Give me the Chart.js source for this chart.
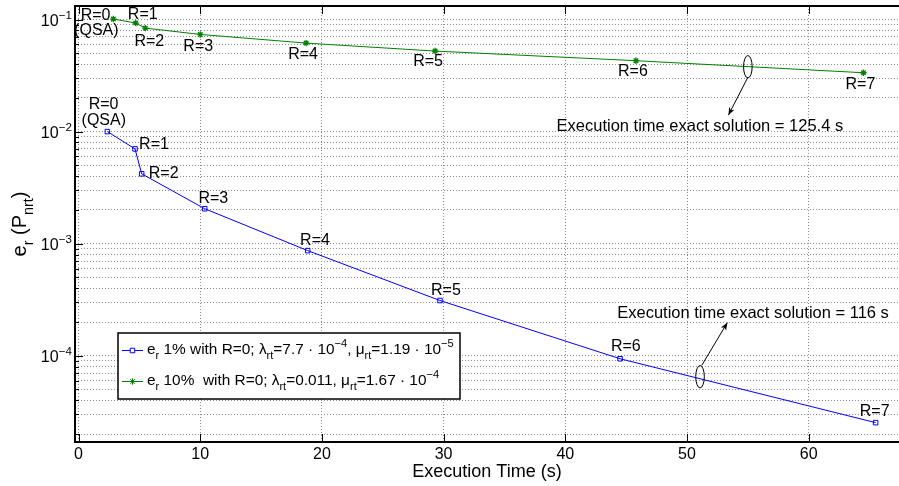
<!DOCTYPE html>
<html>
<head>
<meta charset="utf-8">
<script src="https://cdn.jsdelivr.net/npm/chart.js@4/dist/chart.umd.min.js"></script>
<style>
  html, body { margin: 0; padding: 0; background: #fff; }
  canvas { display: block; }
</style>
</head>
<body>
<canvas id="chart" width="899" height="486"></canvas>
<script>
// --- data ---
const pointLabels = ['R=0', 'R=1', 'R=2', 'R=3', 'R=4', 'R=5', 'R=6', 'R=7'];

// e_r 1% (blue)
const timeBlue = [2.37, 4.64, 5.19, 10.37, 18.83, 29.7, 44.5, 65.5];
const errBlue = [0.0100, 0.00701, 0.00420, 0.00205, 0.000867, 0.000311, 0.0000940, 0.0000253];

// e_r 10% (green)
const timeGreen = [2.86, 4.70, 5.49, 10.0, 18.7, 29.3, 45.8, 64.5];
const errGreen = [0.101, 0.093, 0.0838, 0.0736, 0.0616, 0.0523, 0.0429, 0.0335];

const xTicks = [0, 10, 20, 30, 40, 50, 60];
const yDecades = [1e-4, 1e-3, 1e-2, 1e-1];
const yDecadeExp = ['\u22124', '\u22123', '\u22122', '\u22121'];

// ellipse annotations: where the exact solution time note points at the curve
const noteBlue = { x: 51.07, y: 0.000065, text: 'Execution time exact solution = 116 s' };
const noteGreen = { x: 55.0, y: 0.0379, text: 'Execution time exact solution = 125.4 s' };

// --- layout bits (pixels) ---
const FONT = "'Liberation Sans', Arial, Helvetica, sans-serif";
const blueLabelOff = [[-3.8, -22.4], [19, 0.3], [22, 4.3], [8.6, -5.7], [7.3, -6], [6, -6], [5.7, -7.6], [-1, -6.6]];
const greenLabelOff = [[-17.8, 1], [7, -3.7], [4, 17.7], [-2, 16.7], [-3, 16], [-7, 15], [-3, 15], [-3, 16.3]];
const blueQsaOff = [-3.6, -6.4];
const greenQsaOff = [-17, 16];

// minor log grid 2..9 per decade
const yGrid = [];
[1e-5, 1e-4, 1e-3, 1e-2, 1e-1].forEach(d => {
    for (let k = 1; k <= 9; k++) yGrid.push(+(k * d).toPrecision(3));
});

function drawRich(ctx, parts, x, y, size, align) {
    // parts: [text, mode] with mode 0 normal, 1 subscript, 2 superscript
    const widths = parts.map(([t, m]) => {
        ctx.font = (m ? size * 0.72 : size) + 'px ' + FONT;
        return ctx.measureText(t).width;
    });
    const total = widths.reduce((a, b) => a + b, 0);
    let cx = align === 'center' ? x - total / 2 : align === 'right' ? x - total : x;
    ctx.textAlign = 'left';
    ctx.textBaseline = 'alphabetic';
    parts.forEach(([t, m], i) => {
        ctx.font = (m ? size * 0.72 : size) + 'px ' + FONT;
        const dy = m === 1 ? size * 0.33 : m === 2 ? -size * 0.45 : 0;
        ctx.fillText(t, cx, y + dy);
        cx += widths[i];
    });
}

function drawText(ctx, t, x, y, size, align) {
    ctx.font = size + 'px ' + FONT;
    ctx.textAlign = align || 'center';
    ctx.textBaseline = 'alphabetic';
    ctx.fillText(t, x, y);
}

const whiteBg = {
    id: 'whiteBg',
    beforeDraw(chart) {
        const ctx = chart.ctx;
        ctx.save();
        ctx.fillStyle = '#fff';
        ctx.fillRect(0, 0, chart.width, chart.height);
        ctx.restore();
    }
};

const matlabAxes = {
    id: 'matlabAxes',
    afterDraw(chart) {
        const ctx = chart.ctx;
        const { left, top, bottom } = chart.chartArea;
        const xs = chart.scales.x, ys = chart.scales.y;
        ctx.save();
        ctx.strokeStyle = '#000';
        ctx.fillStyle = '#000';

        // inward tick marks (right side of the box lies past the picture edge)
        ctx.lineWidth = 1;
        ctx.beginPath();
        xTicks.forEach(v => {
            const px = Math.round(xs.getPixelForValue(v)) + 0.5;
            ctx.moveTo(px, bottom); ctx.lineTo(px, bottom - 8);
            ctx.moveTo(px, top); ctx.lineTo(px, top + 8);
        });
        yGrid.forEach(v => {
            if (v < ys.min || v > ys.max) return;
            const len = yDecades.includes(v) ? 8 : 4;
            const py = Math.round(ys.getPixelForValue(v)) + 0.5;
            ctx.moveTo(left, py); ctx.lineTo(left + len, py);
        });
        ctx.stroke();

        // axes box: left, top, bottom
        ctx.lineWidth = 2;
        ctx.beginPath();
        ctx.moveTo(chart.width, top); ctx.lineTo(left, top);
        ctx.lineTo(left, bottom); ctx.lineTo(chart.width, bottom);
        ctx.stroke();

        // y tick labels 10^n
        yDecades.forEach((v, i) => {
            const py = ys.getPixelForValue(v);
            ctx.font = (16 * 0.72) + 'px ' + FONT;
            const ew = ctx.measureText(yDecadeExp[i]).width;
            drawRich(ctx, [['10', 0], [yDecadeExp[i], 2]], 72 - ew - 18, py + 6.5, 16, 'left');
        });

        // y axis title e_r (P_nrt)
        ctx.save();
        ctx.translate(26, 224);
        ctx.rotate(-Math.PI / 2);
        drawRich(ctx, [['e', 0], ['r', 1], [' (P', 0], ['nrt', 1], [')', 0]], 0, 0, 20, 'center');
        ctx.restore();

        // point labels
        const meta0 = chart.getDatasetMeta(0).data;
        const meta1 = chart.getDatasetMeta(1).data;
        meta0.forEach((p, i) => {
            drawText(ctx, pointLabels[i], p.x + blueLabelOff[i][0], p.y + blueLabelOff[i][1], 16);
        });
        drawText(ctx, '(QSA)', meta0[0].x + blueQsaOff[0], meta0[0].y + blueQsaOff[1], 16);
        meta1.forEach((p, i) => {
            drawText(ctx, pointLabels[i], p.x + greenLabelOff[i][0], p.y + greenLabelOff[i][1], 16);
        });
        drawText(ctx, '(QSA)', meta1[0].x + greenQsaOff[0], meta1[0].y + greenQsaOff[1], 16);

        // ellipse + arrow notes
        function note(n, from, to, textOff) {
            const cx = xs.getPixelForValue(n.x), cy = ys.getPixelForValue(n.y);
            ctx.lineWidth = 1;
            ctx.beginPath();
            ctx.ellipse(cx, cy, 4.3, 11.2, 0, 0, Math.PI * 2);
            ctx.stroke();
            const x1 = cx + from[0], y1 = cy + from[1], x2 = cx + to[0], y2 = cy + to[1];
            ctx.beginPath();
            ctx.moveTo(x1, y1); ctx.lineTo(x2, y2);
            ctx.stroke();
            const a = Math.atan2(y2 - y1, x2 - x1);
            ctx.beginPath();
            ctx.moveTo(x2, y2);
            ctx.lineTo(x2 - 8 * Math.cos(a - 0.38), y2 - 8 * Math.sin(a - 0.38));
            ctx.lineTo(x2 - 5.5 * Math.cos(a), y2 - 5.5 * Math.sin(a));
            ctx.lineTo(x2 - 8 * Math.cos(a + 0.38), y2 - 8 * Math.sin(a + 0.38));
            ctx.closePath();
            ctx.fill();
            drawText(ctx, n.text, cx + textOff[0], cy + textOff[1], 16.5);
        }
        note(noteGreen, [0, 10.6], [-19.4, 48.3], [-48, 64.3]);
        note(noteBlue, [1.7, -11.3], [27.3, -54], [53, -59]);

        // legend
        const lx = 118, ly = 333, lw = 342, lh = 66;
        ctx.fillStyle = '#fff';
        ctx.fillRect(lx, ly, lw, lh);
        ctx.lineWidth = 1.5;
        ctx.strokeStyle = '#000';
        ctx.strokeRect(lx, ly, lw, lh);
        const rows = [
            { ds: chart.data.datasets[0], y: 350,
              parts: [['e', 0], ['r', 1], [' 1% with R=0; \u03bb', 0], ['rt', 1], ['=7.7 \u00b7 10', 0], ['\u22124', 2],
                      [', \u03bc', 0], ['rt', 1], ['=1.19 \u00b7 10', 0], ['\u22125', 2]] },
            { ds: chart.data.datasets[1], y: 381,
              parts: [['e', 0], ['r', 1], [' 10%  with R=0; \u03bb', 0], ['rt', 1], ['=0.011, \u03bc', 0], ['rt', 1],
                      ['=1.67 \u00b7 10', 0], ['\u22124', 2]] }
        ];
        rows.forEach(r => {
            ctx.strokeStyle = r.ds.borderColor;
            ctx.lineWidth = 1;
            ctx.beginPath();
            ctx.moveTo(122, r.y + 0.5); ctx.lineTo(143, r.y + 0.5);
            ctx.stroke();
            Chart.helpers.drawPoint(ctx, {
                pointStyle: r.ds.pointStyle, radius: r.ds.pointRadius, borderWidth: r.ds.pointBorderWidth, rotation: 0
            }, 132.5, r.y + 0.5);
            ctx.fillStyle = '#000';
            drawRich(ctx, r.parts, 147, r.y + 4, 15.4, 'left');
        });

        ctx.restore();
    }
};

new Chart(document.getElementById('chart'), {
    type: 'line',
    data: {
        datasets: [
            {
                label: 'e_r 1%',
                data: timeBlue.map((t, i) => ({ x: t, y: errBlue[i] })),
                borderColor: '#0000ff',
                backgroundColor: 'rgba(0,0,0,0)',
                borderWidth: 1,
                pointStyle: 'rect',
                pointRadius: 3.2,
                pointBorderWidth: 1,
                pointBackgroundColor: 'rgba(0,0,0,0)',
                pointBorderColor: '#0000ff',
                tension: 0
            },
            {
                label: 'e_r 10%',
                data: timeGreen.map((t, i) => ({ x: t, y: errGreen[i] })),
                borderColor: '#008000',
                backgroundColor: 'rgba(0,0,0,0)',
                borderWidth: 1,
                pointStyle: 'star',
                pointRadius: 3.2,
                pointBorderWidth: 1.3,
                pointBorderColor: '#008000',
                tension: 0
            }
        ]
    },
    options: {
        responsive: false,
        animation: false,
        devicePixelRatio: 1,
        layout: { autoPadding: false, padding: { top: 6, right: 0, left: 0, bottom: 0 } },
        plugins: { legend: { display: false }, tooltip: { enabled: false } },
        scales: {
            x: {
                type: 'linear',
                min: -0.29,
                max: 67.42,
                afterBuildTicks: s => { s.ticks = xTicks.map(v => ({ value: v })); },
                afterFit: s => { s.height = 44; s.paddingLeft = 0; s.paddingRight = 0; },
                grid: { color: '#8a8a8a', lineWidth: 1, drawTicks: false },
                border: { display: false, dash: [1, 2] },
                ticks: { color: '#000', font: { family: FONT, size: 16 }, padding: 3, maxRotation: 0, autoSkip: false },
                title: { display: true, text: 'Execution Time (s)', color: '#000', font: { family: FONT, size: 18 }, padding: { top: 0, bottom: 3 } }
            },
            y: {
                type: 'logarithmic',
                min: 1.7e-5,
                max: 0.132,
                afterBuildTicks: s => { s.ticks = yGrid.filter(v => v >= 1.7e-5 && v <= 0.132).map(v => ({ value: v })); },
                afterFit: s => { s.width = 75; s.paddingTop = 0; s.paddingBottom = 0; },
                grid: { color: '#8a8a8a', lineWidth: 1, drawTicks: false },
                border: { display: false, dash: [1, 2] },
                ticks: { display: false }
            }
        }
    },
    plugins: [whiteBg, matlabAxes]
});
</script>
</body>
</html>
